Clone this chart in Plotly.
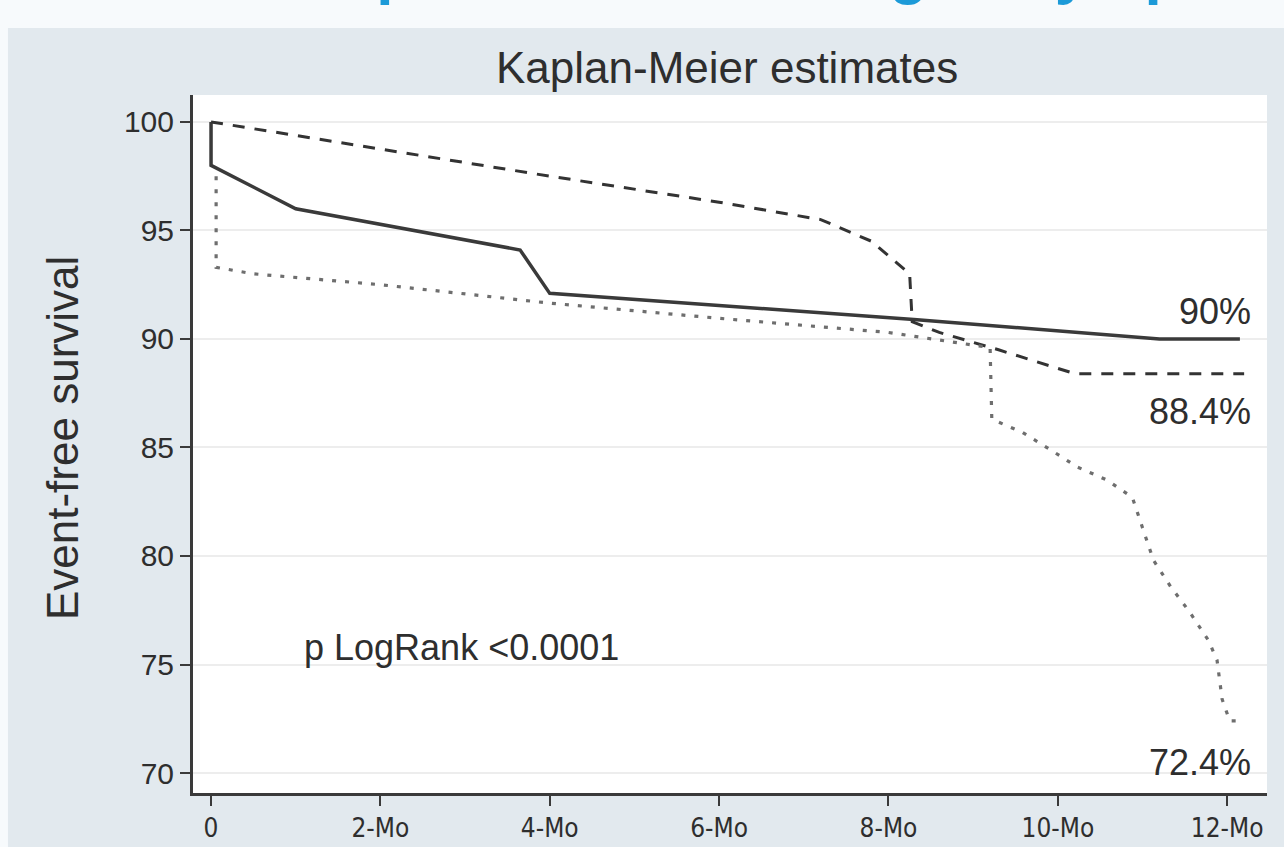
import plotly.graph_objects as go

# Kaplan-Meier event-free survival (%) by month, three groups
solid_t = [0, 0, 1.0, 3.65, 4.0, 8.3, 11.2, 12.15]
solid_s = [100, 98.0, 96.0, 94.1, 92.1, 90.9, 90.0, 90.0]

dashed_t = [0, 2, 4, 6, 7.2, 7.8, 8.25, 8.28, 8.6, 9.3, 10.2, 12.2]
dashed_s = [100, 98.75, 97.5, 96.3, 95.5, 94.5, 93.0, 90.8, 90.3, 89.5, 88.4, 88.4]

dotted_t = [0.06, 0.06, 0.5, 2, 4, 6, 8, 8.5, 9.2, 9.22, 9.58, 9.91, 10.23, 10.58,
            10.88, 11.0, 11.13, 11.33, 11.56, 11.78, 11.88, 11.94, 12.03, 12.12]
dotted_s = [97.5, 93.3, 93.0, 92.5, 91.65, 90.95, 90.3, 90.0, 89.6, 86.3, 85.7, 84.9,
            84.1, 83.5, 82.7, 81.3, 79.8, 78.6, 77.4, 76.1, 75.2, 73.4, 72.4, 72.4]

x_ticks = [0, 2, 4, 6, 8, 10, 12]
x_labels = ["0", "2-Mo", "4-Mo", "6-Mo", "8-Mo", "10-Mo", "12-Mo"]
y_ticks = [70, 75, 80, 85, 90, 95, 100]

end_labels = ["90%", "88.4%", "72.4%"]
end_label_y = [91.25, 86.65, 70.5]
pvalue_text = "p LogRank <0.0001"

FONT = "Liberation Sans, Arial, sans-serif"
INK = "#2e2e2e"

fig = go.Figure()
fig.add_trace(go.Scatter(x=solid_t, y=solid_s, mode="lines",
                         line=dict(color="#3a3a3a", width=3.5), showlegend=False))
fig.add_trace(go.Scatter(x=dashed_t, y=dashed_s, mode="lines",
                         line=dict(color="#333333", width=3, dash="12px,10px"),
                         showlegend=False))
fig.add_trace(go.Scatter(x=dotted_t, y=dotted_s, mode="lines",
                         line=dict(color="#6e6e6e", width=3.2, dash="4px,9px"),
                         showlegend=False))

annotations = []
for txt, yv in zip(end_labels, end_label_y):
    annotations.append(dict(x=12.3, y=yv, xref="x", yref="y", text=txt,
                            showarrow=False, xanchor="right", yanchor="middle",
                            font=dict(family=FONT, size=36, color=INK)))
annotations.append(dict(x=1.07, y=75.8, xref="x", yref="y", text=pvalue_text,
                        showarrow=False, xanchor="left", yanchor="middle",
                        font=dict(family=FONT, size=36, color=INK)))
# panel title
annotations.append(dict(x=0.497, y=1.0387, xref="paper", yref="paper",
                        text="Kaplan-Meier estimates", showarrow=False,
                        xanchor="center", yanchor="middle",
                        font=dict(family=FONT, size=44, color=INK)))
# y axis title
annotations.append(dict(x=-0.121, y=0.5086, xref="paper", yref="paper",
                        text="Event-free survival", showarrow=False, textangle=-90,
                        xanchor="center", yanchor="middle",
                        font=dict(family=FONT, size=44, color=INK)))
# slide heading running off the top edge
annotations.append(dict(x=0.43, y=1.127, xref="paper", yref="paper",
                        text="<b>Outcomes of patients according to symptoms</b>",
                        showarrow=False, xanchor="center", yanchor="bottom",
                        borderpad=0,
                        font=dict(family=FONT, size=62, color="#1c9ad8")))

shapes = [
    # grey panel behind the graph
    dict(type="rect", xref="paper", yref="paper", x0=-0.1723, x1=1.02,
         y0=-0.09, y1=1.096, fillcolor="#e2e9ee", line=dict(width=0),
         layer="below"),
    # white plotting region
    dict(type="rect", xref="paper", yref="paper", x0=0, x1=1, y0=0, y1=1,
         fillcolor="#ffffff", line=dict(width=0), layer="below"),
]

fig.update_layout(
    width=1284, height=847,
    margin=dict(l=193, r=17, t=95, b=54),
    paper_bgcolor="#f7fafc",
    plot_bgcolor="#ffffff",
    annotations=annotations,
    shapes=shapes,
    xaxis=dict(range=[-0.213, 12.47], tickvals=x_ticks, ticktext=x_labels,
               automargin=False,
               showgrid=False, zeroline=False, showline=True, linecolor="#3a3a3a",
               linewidth=3, ticks="outside", ticklen=10, tickwidth=2,
               tickcolor="#3a3a3a",
               tickfont=dict(family="Liberation Sans Narrow, DejaVu Sans Condensed, sans-serif",
                             size=26, color=INK)),
    yaxis=dict(range=[69.08, 101.24], tickvals=y_ticks, showgrid=True,
               automargin=False,
               gridcolor="#ededed", gridwidth=2, zeroline=False, showline=True,
               linecolor="#3a3a3a", linewidth=3, ticks="outside", ticklen=10,
               tickwidth=2, tickcolor="#3a3a3a",
               tickfont=dict(family=FONT, size=30, color=INK)),
)

fig.write_html("out.html")
